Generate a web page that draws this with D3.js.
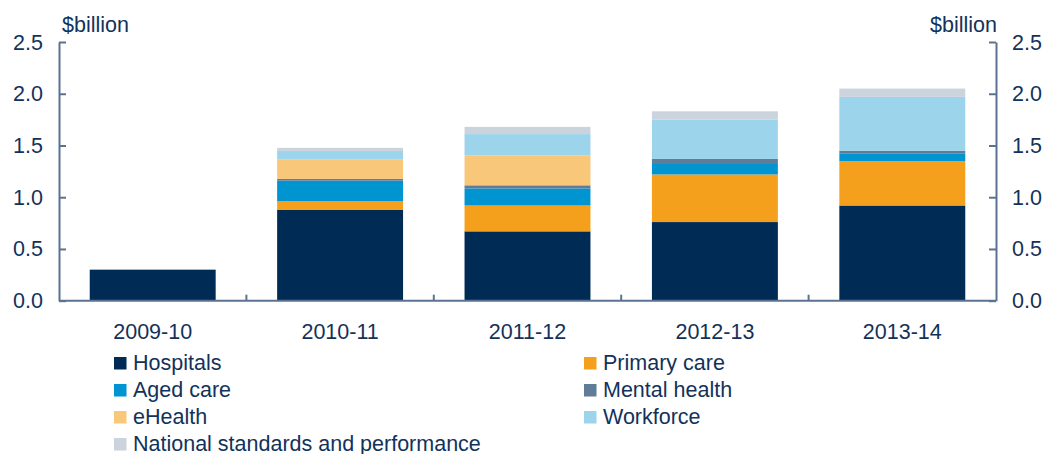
<!DOCTYPE html>
<html>
<head>
<meta charset="utf-8">
<script src="https://cdn.jsdelivr.net/npm/d3@7"></script>
<style>
    body { margin: 0; background: #fff; }
    svg { display: block; font-family: "Liberation Sans", Arial, sans-serif; }
    .lbl { fill: #13325a; font-size: 21.5px; }
</style>
</head>
<body>
<svg width="1043" height="454"></svg>
<script>
const years = ["2009-10", "2010-11", "2011-12", "2012-13", "2013-14"]
const series_names = ["Hospitals", "Primary care", "Aged care", "Mental health", "eHealth", "Workforce", "National standards and performance"]
const series_colors = ["#002b54", "#f4a01d", "#0094d1", "#5f7d99", "#f8c77a", "#9cd4ec", "#cbd3dd"]

// $billion per year
const hospitals = [0.30, 0.88, 0.67, 0.76, 0.92]
const primary_care = [0, 0.08, 0.25, 0.46, 0.43]
const aged_care = [0, 0.20, 0.165, 0.11, 0.07]
const mental_health = [0, 0.017, 0.03, 0.04, 0.03]
const ehealth = [0, 0.19, 0.29, 0, 0]
const workforce = [0, 0.08, 0.205, 0.38, 0.52]
const national_standards = [0, 0.03, 0.07, 0.08, 0.08]

const y_ticks = [0, 0.5, 1.0, 1.5, 2.0, 2.5]

const all_series = [hospitals, primary_care, aged_care, mental_health, ehealth, workforce, national_standards]
const rows = years.map((yr, i) => {
    const row = { year: yr }
    series_names.forEach((name, j) => { row[name] = all_series[j][i] })
    return row
})

const svg = d3.select("svg")
const plot_left = 59, plot_right = 996, plot_top = 42, plot_bottom = 300.7
const axis_color = "#5b7390"

const pad = 0.328
const x = d3.scaleBand().domain(years).range([plot_left, plot_right]).paddingInner(pad).paddingOuter(pad / 2)
const y = d3.scaleLinear().domain([0, 2.5]).range([plot_bottom, plot_top])
const color = d3.scaleOrdinal().domain(series_names).range(series_colors)

const stacked = d3.stack().keys(series_names)(rows)

svg.append("g")
    .selectAll("g")
    .data(stacked)
    .join("g")
    .attr("fill", d => color(d.key))
    .selectAll("rect")
    .data(d => d)
    .join("rect")
    .attr("x", d => x(d.data.year))
    .attr("width", x.bandwidth())
    .attr("y", d => y(d[1]))
    .attr("height", d => Math.max(0, y(d[0]) - y(d[1])))

// axes
const yl = svg.append("g").attr("transform", `translate(${plot_left},0)`)
    .call(d3.axisRight(y).tickValues(y_ticks).tickSize(7).tickSizeOuter(0).tickFormat(""))
const yr = svg.append("g").attr("transform", `translate(${plot_right},0)`)
    .call(d3.axisLeft(y).tickValues(y_ticks).tickSize(7).tickSizeOuter(0).tickFormat(""))
for (const g of [yl, yr]) {
    g.select(".domain").attr("stroke", axis_color).attr("stroke-width", 2)
    g.selectAll(".tick line").attr("stroke", axis_color).attr("stroke-width", 2)
}

svg.append("line")
    .attr("x1", plot_left).attr("x2", plot_right)
    .attr("y1", y(0)).attr("y2", y(0))
    .attr("stroke", axis_color).attr("stroke-width", 2)

// category boundary ticks
const half_gap = x.step() * pad / 2
svg.append("g")
    .selectAll("line")
    .data(years.slice(1))
    .join("line")
    .attr("x1", d => x(d) - half_gap).attr("x2", d => x(d) - half_gap)
    .attr("y1", y(0)).attr("y2", y(0) - 6)
    .attr("stroke", axis_color).attr("stroke-width", 2)

// tick labels
svg.append("g").selectAll("text")
    .data(y_ticks).join("text")
    .attr("class", "lbl")
    .attr("x", 43).attr("y", d => y(d) + 7.5)
    .attr("text-anchor", "end")
    .text(d => d3.format(".1f")(d))

svg.append("g").selectAll("text")
    .data(y_ticks).join("text")
    .attr("class", "lbl")
    .attr("x", 1012).attr("y", d => y(d) + 7.5)
    .attr("text-anchor", "start")
    .text(d => d3.format(".1f")(d))

svg.append("text").attr("class", "lbl").attr("x", 62).attr("y", 32).text("$billion")
svg.append("text").attr("class", "lbl").attr("x", 997).attr("y", 32).attr("text-anchor", "end").text("$billion")

svg.append("g").selectAll("text")
    .data(years).join("text")
    .attr("class", "lbl")
    .attr("x", d => x(d) + x.bandwidth() / 2)
    .attr("y", 339)
    .attr("text-anchor", "middle")
    .text(d => d)

// legend, two columns
const legend = svg.append("g")
    .selectAll("g")
    .data(series_names)
    .join("g")
    .attr("transform", (d, i) => `translate(${i % 2 ? 584 : 114},${370 + Math.floor(i / 2) * 27})`)

legend.append("rect")
    .attr("x", 0).attr("y", -13)
    .attr("width", 12.5).attr("height", 12.5)
    .attr("fill", d => color(d))

legend.append("text")
    .attr("class", "lbl")
    .attr("x", 19).attr("y", 0)
    .text(d => d)
</script>
</body>
</html>
